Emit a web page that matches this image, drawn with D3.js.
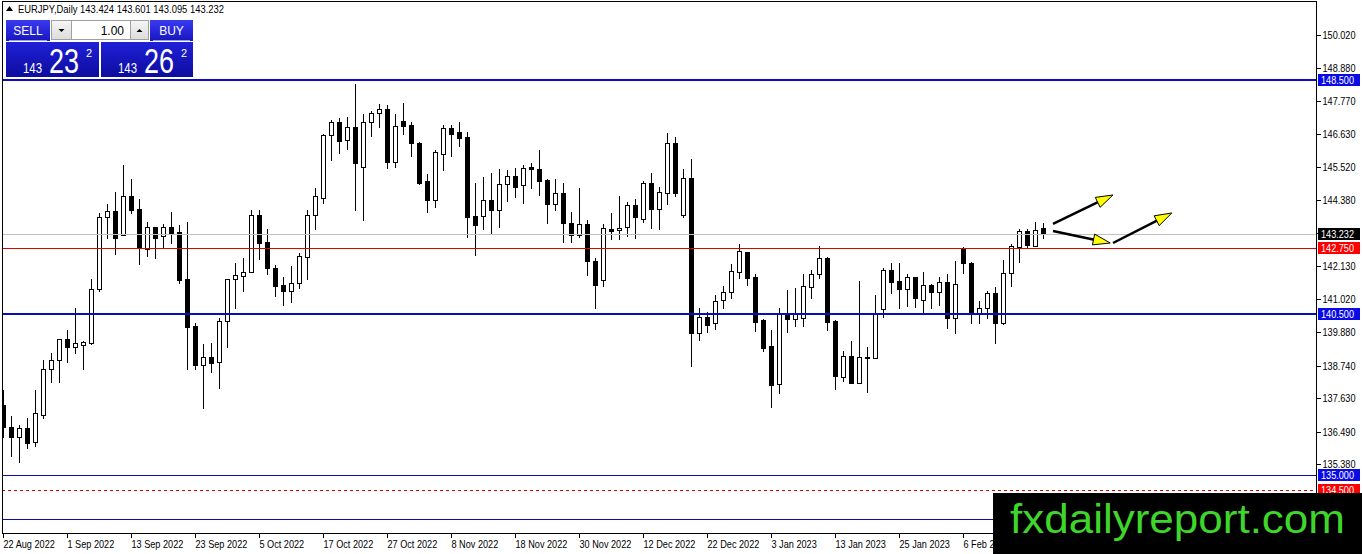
<!DOCTYPE html>
<html>
<head>
<meta charset="utf-8">
<script src="https://cdn.jsdelivr.net/npm/d3@7"></script>
<style>
  html, body { margin: 0; padding: 0; background: #fff; }
  svg { display: block; }
  text { font-family: "Liberation Sans", Arial, sans-serif; }
</style>
</head>
<body>
<svg id="chart" width="1362" height="554"></svg>
<script>
// ---------------- DATA ----------------
const symbol = "EURJPY,Daily";
const opens = [137.40,136.65,136.31,136.62,136.14,137.06,138.63,138.94,139.65,139.38,
139.45,139.52,141.36,143.81,144.02,143.20,144.53,144.09,142.72,143.47,
143.16,143.47,143.30,141.70,140.10,138.77,139.04,138.87,140.27,141.70,
141.80,141.94,143.88,142.96,142.07,141.49,141.29,141.56,142.45,143.88,
144.46,146.61,147.05,146.44,146.88,145.52,147.05,147.36,147.50,145.69,
147.09,146.95,146.34,145.04,144.39,145.96,146.85,146.71,146.54,143.85,
143.85,144.39,144.05,144.94,145.21,144.90,145.52,145.45,145.08,144.26,
144.63,143.61,143.20,143.57,142.31,141.66,143.40,143.37,143.47,144.22,
143.74,144.97,144.09,144.63,146.34,143.88,145.14,139.86,140.40,140.20,
140.98,141.26,141.94,142.62,141.77,140.30,139.41,138.12,140.54,140.33,
140.37,141.43,141.87,142.42,140.27,138.36,139.07,138.15,139.00,139.00,
140.68,142.01,141.63,141.36,141.77,140.98,141.49,141.26,141.60,140.37,
142.76,142.24,140.54,140.71,141.22,140.20,141.90,142.79,143.33,142.82,
143.424];
const highs = [137.91,137.03,136.72,136.96,137.91,138.94,139.18,139.65,139.96,140.71,
139.58,141.70,143.95,144.26,144.67,145.59,145.11,144.43,143.64,143.47,
143.57,143.98,143.54,143.64,140.20,139.48,139.52,140.37,141.70,142.24,
142.42,144.05,144.05,143.40,142.18,141.77,142.14,142.59,144.05,144.80,
146.64,147.12,147.19,147.22,148.35,147.33,147.43,147.67,147.63,147.33,
147.70,147.05,146.37,145.28,146.10,146.95,146.95,147.05,146.71,144.97,
145.18,145.31,145.45,145.42,145.48,145.59,145.66,146.10,145.11,145.11,
144.97,143.98,144.80,143.71,142.42,143.57,143.95,144.53,144.32,144.43,
145.04,145.31,144.84,146.68,146.54,145.45,145.79,140.71,140.57,141.15,
141.46,142.21,142.89,142.62,141.87,140.33,139.96,140.71,141.32,141.39,
141.87,142.01,142.82,142.45,140.30,139.24,139.58,141.63,139.38,141.15,
142.07,142.24,142.24,141.87,141.77,141.94,141.53,141.77,141.87,142.31,
142.79,142.28,140.95,141.29,141.43,142.35,142.89,143.40,143.40,143.64,
143.601];
const lows = [136.31,135.66,135.46,135.94,136.00,136.96,138.19,138.19,138.87,139.18,
138.63,139.48,141.29,143.10,142.55,143.20,143.95,142.21,142.48,142.42,
142.76,142.93,141.56,138.63,138.63,137.30,138.53,137.98,139.38,140.71,
141.29,141.94,142.38,141.87,141.12,140.81,140.91,141.39,141.70,143.40,
144.29,145.76,146.00,146.13,144.05,143.71,146.58,146.88,145.48,145.52,
146.64,145.89,144.94,143.98,144.15,145.42,145.89,146.23,143.13,142.52,
143.40,143.27,143.47,144.36,144.50,144.29,144.80,144.56,143.61,144.05,
142.96,142.96,143.13,141.84,140.71,141.46,143.06,143.06,143.16,143.10,
143.64,143.44,143.40,144.26,144.53,143.81,138.73,139.62,139.89,139.99,
140.71,141.05,141.73,141.49,139.93,139.24,137.33,137.81,139.89,140.10,
140.10,141.05,141.73,139.96,137.95,138.22,138.15,138.15,137.85,139.00,
140.40,141.22,140.71,140.78,140.74,140.54,140.71,140.81,140.03,139.86,
141.90,140.20,140.20,140.37,139.52,140.16,141.46,142.28,142.79,142.82,
143.095];
const closes = [136.65,136.31,136.62,136.11,137.13,138.63,138.94,139.65,139.38,139.52,
139.55,141.36,143.81,144.02,143.10,144.53,144.05,142.76,143.47,143.10,
143.47,143.27,141.66,140.06,138.77,139.04,138.83,140.27,141.70,141.84,
141.94,143.88,142.93,142.07,141.46,141.29,141.56,142.48,143.88,144.53,
146.61,147.05,146.41,146.88,145.66,147.05,147.36,147.50,145.69,146.92,
146.92,146.34,144.97,144.39,146.03,146.85,146.64,146.51,143.81,143.54,
144.39,144.05,144.94,145.21,144.84,145.48,145.45,145.04,144.26,144.63,
143.61,143.20,143.57,142.31,141.49,143.44,143.35,143.44,144.22,143.81,
144.97,144.09,144.67,146.34,144.63,145.14,139.86,140.40,140.13,140.95,
141.26,141.97,142.65,141.73,140.23,139.35,138.08,140.54,140.33,140.54,
141.46,141.87,142.42,140.23,138.39,139.07,138.15,139.04,139.04,140.54,
142.01,141.60,141.36,141.77,141.05,141.49,141.26,141.60,140.37,141.53,
142.24,140.54,140.71,141.22,140.20,141.90,142.82,143.33,142.86,143.37,
143.232];
const dateLabels = ["22 Aug 2022","1 Sep 2022","13 Sep 2022","23 Sep 2022","5 Oct 2022",
  "17 Oct 2022","27 Oct 2022","8 Nov 2022","18 Nov 2022","30 Nov 2022","12 Dec 2022",
  "22 Dec 2022","3 Jan 2023","13 Jan 2023","25 Jan 2023","6 Feb 2023"];
const dateLabelStep = 8;               // bars between date labels
const priceTicks = [150.020,148.880,147.770,146.630,145.520,144.380,143.270,
  142.130,141.020,139.880,138.740,137.630,136.490,135.380];
const levelPrices = [148.500, 142.750, 140.500, 135.000, 134.500, 133.500];
const bidPrice = 143.232;
const arrowFrom = [[131.25,143.574],[131.25,143.335],[138.75,142.926]];
const arrowTo   = [[138.75,144.564],[138.40,142.926],[146.10,143.949]];
const lotSize = "1.00";
const sellQuote = ["143","23","2"];
const buyQuote  = ["143","26","2"];

// ---------------- LAYOUT ----------------
const W = 1362, H = 554;
const plotL = 2, plotT = 1, plotR = 1316, plotB = 533;
const svg = d3.select("#chart");

const x = d3.scaleLinear().domain([0, 164]).range([3, 3 + 8 * 164]);
const y = d3.scaleLinear().domain([133.035, 151.111]).range([plotB, plotT + 2]);

const bars = opens.map((o, i) => ({i, o, h: highs[i], l: lows[i], c: closes[i]}));

svg.append("rect").attr("width", W).attr("height", H).attr("fill", "#fff");

const defs = svg.append("defs");
defs.append("clipPath").attr("id", "plotClip")
  .append("rect").attr("x", plotL + 1).attr("y", plotT + 1)
  .attr("width", plotR - plotL - 1).attr("height", plotB - plotT - 1);

const plot = svg.append("g").attr("clip-path", "url(#plotClip)")
  .attr("shape-rendering", "crispEdges");

// candles
const cg = plot.append("g");
bars.forEach(b => {
  const px = Math.round(x(b.i));
  const yh = Math.round(y(b.h)), yl = Math.round(y(b.l));
  const top = Math.round(y(Math.max(b.o, b.c)));
  const bot = Math.round(y(Math.min(b.o, b.c)));
  const up = b.c >= b.o;
  cg.append("line").attr("x1", px + 0.5).attr("x2", px + 0.5)
    .attr("y1", yh).attr("y2", yl + 1).attr("stroke", "#000").attr("stroke-width", 1);
  if (bot - top < 1) {
    cg.append("line").attr("x1", px - 2).attr("x2", px + 3)
      .attr("y1", top + 0.5).attr("y2", top + 0.5).attr("stroke", "#000");
  } else {
    cg.append("rect").attr("x", px - 2 + 0.5).attr("y", top + 0.5)
      .attr("width", 4).attr("height", bot - top)
      .attr("fill", up ? "#fff" : "#000").attr("stroke", "#000").attr("stroke-width", 1);
  }
});

// horizontal levels
const levelStyle = [
  {stroke: "#0b0bc0", w: 2, dash: null, box: "#0a0ae6"},
  {stroke: "#e00000", w: 1, dash: null, box: "#ff0000"},
  {stroke: "#0b0bc0", w: 2, dash: null, box: "#0a0ae6"},
  {stroke: "#0b0ba8", w: 1, dash: null, box: "#0a0ae6"},
  {stroke: "#d00000", w: 1, dash: "3,3", box: "#ff0000"},
  {stroke: "#0b0ba8", w: 1, dash: null, box: "#0a0ae6"}
];
plot.append("line").attr("x1", plotL).attr("x2", plotR)
  .attr("y1", Math.round(y(bidPrice)) + 0.5).attr("y2", Math.round(y(bidPrice)) + 0.5)
  .attr("stroke", "#c0c0c0");
levelPrices.forEach((p, k) => {
  const s = levelStyle[k];
  const yy = Math.round(y(p)) + (s.w === 1 ? 0.5 : 0);
  plot.append("line").attr("x1", plotL).attr("x2", plotR)
    .attr("y1", yy).attr("y2", yy)
    .attr("stroke", s.stroke).attr("stroke-width", s.w)
    .attr("stroke-dasharray", s.dash);
});

// arrows
const ag = svg.append("g").attr("clip-path", "url(#plotClip)");
arrowFrom.forEach((f, k) => {
  const x0 = x(f[0]), y0 = y(f[1]);
  const x1 = x(arrowTo[k][0]), y1 = y(arrowTo[k][1]);
  const dx = x1 - x0, dy = y1 - y0, len = Math.hypot(dx, dy);
  const ux = dx / len, uy = dy / len;
  const hl = 17, hw = 5.5;
  const bx = x1 - ux * hl, by = y1 - uy * hl;
  ag.append("line").attr("x1", x0).attr("y1", y0).attr("x2", bx + ux * 2).attr("y2", by + uy * 2)
    .attr("stroke", "#000").attr("stroke-width", 2.5);
  ag.append("path")
    .attr("d", `M${x1},${y1}L${bx - uy * hw},${by + ux * hw}L${bx + uy * hw},${by - ux * hw}Z`)
    .attr("fill", "#ffff00").attr("stroke", "#000").attr("stroke-width", 1);
});

// frame
svg.append("rect").attr("x", plotL + 0.5).attr("y", plotT + 0.5)
  .attr("width", plotR - plotL).attr("height", plotB - plotT)
  .attr("fill", "none").attr("stroke", "#000").attr("shape-rendering", "crispEdges");

// y axis
const yAxis = d3.axisRight(y).tickValues(priceTicks).tickFormat(d3.format(".3f"))
  .tickSize(4).tickPadding(2);
const yg = svg.append("g").attr("transform", `translate(${plotR + 0.5},0)`).call(yAxis);
yg.select(".domain").remove();
yg.selectAll("line").attr("stroke", "#000").attr("shape-rendering", "crispEdges");
yg.selectAll("text").attr("font-size", 10.5).attr("fill", "#000")
  .attr("font-family", "Liberation Sans, Arial, sans-serif")
  .attr("textLength", 33).attr("lengthAdjust", "spacingAndGlyphs");

// price label boxes
function priceBox(p, fill) {
  const yy = Math.round(y(p));
  const g = svg.append("g");
  g.append("rect").attr("x", plotR + 2).attr("y", yy - 6).attr("width", 42).attr("height", 12)
    .attr("fill", fill).attr("shape-rendering", "crispEdges");
  g.append("text").attr("x", plotR + 5).attr("y", yy + 4).attr("fill", "#fff")
    .attr("font-size", 10.5).attr("textLength", 33).attr("lengthAdjust", "spacingAndGlyphs")
    .text(d3.format(".3f")(p));
}
levelPrices.forEach((p, k) => priceBox(p, levelStyle[k].box));
priceBox(bidPrice, "#000");

// x axis
const xTicks = dateLabels.map((d, k) => k * dateLabelStep);
const xAxis = d3.axisBottom(x).tickValues(xTicks)
  .tickFormat((d, k) => dateLabels[k]).tickSize(4).tickPadding(3);
const xg = svg.append("g").attr("transform", `translate(0,${plotB + 0.5})`).call(xAxis);
xg.select(".domain").remove();
xg.selectAll("line").attr("stroke", "#000").attr("shape-rendering", "crispEdges");
xg.selectAll("text").attr("font-size", 10.5).attr("fill", "#000")
  .attr("text-anchor", "start").attr("dx", 0)
  .attr("font-family", "Liberation Sans, Arial, sans-serif")
  .each(function () {
    const L = this.getComputedTextLength();
    d3.select(this).attr("textLength", L * 0.87).attr("lengthAdjust", "spacingAndGlyphs");
  });

// header
svg.append("path").attr("d", "M6,11L9.5,6L13,11Z").attr("fill", "#000");
svg.append("text").attr("x", 18).attr("y", 13).attr("font-size", 11)
  .attr("textLength", 206).attr("lengthAdjust", "spacingAndGlyphs")
  .text(`${symbol}  ${opens[opens.length-1].toFixed(3)} ${highs[highs.length-1].toFixed(3)} ${lows[lows.length-1].toFixed(3)} ${closes[closes.length-1].toFixed(3)}`);

// one-click trading panel
const g1 = defs.append("linearGradient").attr("id", "btnGrad").attr("x1", 0).attr("x2", 0).attr("y1", 0).attr("y2", 1);
g1.append("stop").attr("offset", "0%").attr("stop-color", "#3a3af2");
g1.append("stop").attr("offset", "100%").attr("stop-color", "#1616c0");
const g2 = defs.append("linearGradient").attr("id", "boxGrad").attr("x1", 0).attr("x2", 0).attr("y1", 0).attr("y2", 1);
g2.append("stop").attr("offset", "0%").attr("stop-color", "#2020d8");
g2.append("stop").attr("offset", "100%").attr("stop-color", "#0c0c9e");
const g3 = defs.append("linearGradient").attr("id", "grayGrad").attr("x1", 0).attr("x2", 0).attr("y1", 0).attr("y2", 1);
g3.append("stop").attr("offset", "0%").attr("stop-color", "#f6f6f6");
g3.append("stop").attr("offset", "100%").attr("stop-color", "#dcdcdc");

const panel = svg.append("g").attr("shape-rendering", "crispEdges");
panel.append("rect").attr("x", 5).attr("y", 19).attr("width", 189).attr("height", 58).attr("fill", "#fff");
[[6, 44, "SELL"], [150, 43, "BUY"]].forEach(([bx, bw, t]) => {
  panel.append("rect").attr("x", bx).attr("y", 20).attr("width", bw).attr("height", 21)
    .attr("fill", "url(#btnGrad)");
  panel.append("line").attr("x1", bx + 3).attr("x2", bx + bw - 3).attr("y1", 40.5).attr("y2", 40.5)
    .attr("stroke", "#9a9af0");
  panel.append("text").attr("x", bx + bw / 2).attr("y", 35).attr("text-anchor", "middle")
    .attr("fill", "#fff").attr("font-size", 12).text(t);
});
panel.append("rect").attr("x", 51.5).attr("y", 20.5).attr("width", 20).attr("height", 19)
  .attr("fill", "url(#grayGrad)").attr("stroke", "#a0a0a0");
panel.append("path").attr("d", "M58.5,29L64.5,29L61.5,32Z").attr("fill", "#000").attr("shape-rendering", "auto");
panel.append("rect").attr("x", 71.5).attr("y", 20.5).attr("width", 59).attr("height", 19)
  .attr("fill", "#fff").attr("stroke", "#a0a0a0");
panel.append("text").attr("x", 124).attr("y", 35).attr("text-anchor", "end")
  .attr("font-size", 12).attr("fill", "#000").text(lotSize);
panel.append("rect").attr("x", 130.5).attr("y", 20.5).attr("width", 18).attr("height", 19)
  .attr("fill", "url(#grayGrad)").attr("stroke", "#a0a0a0");
panel.append("path").attr("d", "M136.5,32L142.5,32L139.5,29Z").attr("fill", "#000").attr("shape-rendering", "auto");
[[6, 93, sellQuote], [101, 92, buyQuote]].forEach(([bx, bw, q]) => {
  panel.append("rect").attr("x", bx).attr("y", 42).attr("width", bw).attr("height", 35)
    .attr("fill", "url(#boxGrad)");
  panel.append("text").attr("x", bx + 17).attr("y", 73).attr("fill", "#fff")
    .attr("font-size", 14).attr("textLength", 19).attr("lengthAdjust", "spacingAndGlyphs").text(q[0]);
  panel.append("text").attr("transform", `translate(${bx + 43},73) scale(1,1.3)`)
    .attr("fill", "#fff").attr("font-size", 27).text(q[1]);
  panel.append("text").attr("x", bx + 80).attr("y", 57).attr("fill", "#fff")
    .attr("font-size", 11).text(q[2]);
});

// watermark
svg.append("rect").attr("x", 993).attr("y", 493).attr("width", W - 993).attr("height", H - 493)
  .attr("fill", "#000");
svg.append("text").attr("x", 1010).attr("y", 533).attr("font-size", 41)
  .attr("fill", "#3fd62b").attr("textLength", 335).attr("lengthAdjust", "spacingAndGlyphs")
  .text("fxdailyreport.com");
</script>
</body>
</html>
